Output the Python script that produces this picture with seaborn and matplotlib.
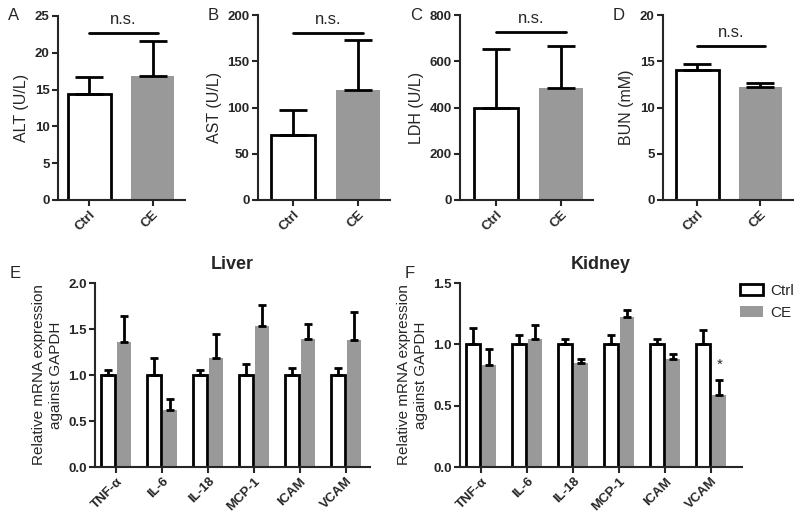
import numpy as np
import pandas as pd
import seaborn as sns
import matplotlib.pyplot as plt
from matplotlib.patches import Patch

# serum markers (top row)
groups = ['Ctrl', 'CE']
alt_mean = [14.4, 16.8]
alt_err = [2.3, 4.8]
ast_mean = [70, 119]
ast_err = [27, 54]
ldh_mean = [397, 483]
ldh_err = [258, 185]
bun_mean = [14.1, 12.2]
bun_err = [0.6, 0.5]

# mRNA expression (bottom row)
genes = ['TNF-α', 'IL-6', 'IL-18', 'MCP-1', 'ICAM', 'VCAM']
liver_ctrl = [1.0, 1.0, 1.0, 1.0, 1.0, 1.0]
liver_ctrl_err = [0.05, 0.18, 0.05, 0.12, 0.08, 0.08]
liver_ce = [1.36, 0.62, 1.18, 1.53, 1.39, 1.38]
liver_ce_err = [0.28, 0.12, 0.27, 0.23, 0.16, 0.30]
kidney_ctrl = [1.0, 1.0, 1.0, 1.0, 1.0, 1.0]
kidney_ctrl_err = [0.13, 0.08, 0.04, 0.08, 0.04, 0.12]
kidney_ce = [0.83, 1.04, 0.85, 1.22, 0.88, 0.59]
kidney_ce_err = [0.13, 0.12, 0.03, 0.06, 0.04, 0.12]

GRAY = '#999999'
sns.set_style('ticks')
plt.rcParams['font.family'] = ['Liberation Sans', 'DejaVu Sans']
plt.rcParams['axes.linewidth'] = 1.5

W, H = 800, 518
fig = plt.figure(figsize=(8, 5.18), dpi=100)


def add_ax(left, right, top, bottom):
    return fig.add_axes([left / W, 1 - bottom / H, (right - left) / W, (bottom - top) / H])


def style_ax(ax, ylabel, yticks, ylim, xlim, fmt=None, ysize=11.5):
    sns.despine(ax=ax)
    ax.set_ylim(*ylim)
    ax.set_xlim(*xlim)
    ax.set_yticks(yticks)
    if fmt:
        ax.set_yticklabels([fmt.format(t) for t in yticks])
    ax.set_ylabel(ylabel, fontsize=ysize, labelpad=4)
    ax.set_xlabel('')
    ax.tick_params(axis='both', width=1.5, length=4, labelsize=9.5, pad=2)
    for lab in ax.get_yticklabels():
        lab.set_fontweight('bold')
    for lab in ax.get_xticklabels():
        lab.set_fontweight('bold')
        lab.set_rotation(45)
        lab.set_ha('right')
        lab.set_rotation_mode('anchor')


def top_panel(box, letter, mean, err, ylabel, yticks, xlim, sig_y):
    ax = add_ax(*box)
    sns.barplot(x=groups, y=mean, hue=groups, palette=['white', GRAY], width=0.68,
                legend=False, ax=ax)
    bars = ax.patches[:2]
    bars[0].set_edgecolor('black')
    bars[0].set_linewidth(2)
    bars[1].set_edgecolor('none')
    xs = [b.get_x() + b.get_width() / 2 for b in bars]
    ax.errorbar(xs, mean, yerr=[[0, 0], err], fmt='none', ecolor='black',
                elinewidth=2, capsize=10, capthick=2, zorder=1)
    ax.plot([xs[0], xs[1] + 0.08], [sig_y, sig_y], color='black', lw=2, clip_on=False)
    ax.text(np.mean(xs) + 0.04, sig_y + (yticks[-1]) * 0.03, 'n.s.', ha='center',
            va='bottom', fontsize=12)
    style_ax(ax, ylabel, yticks, (0, yticks[-1]), xlim)
    fig.text((box[0] - 50) / W, 1 - 15 / H, letter, fontsize=12, va='center')
    return ax


top_panel((58, 185, 16, 200), 'A', alt_mean, alt_err, 'ALT (U/L)',
          [0, 5, 10, 15, 20, 25], (-0.49, 1.51), 22.7)
top_panel((258, 390, 15, 200), 'B', ast_mean, ast_err, 'AST (U/L)',
          [0, 50, 100, 150, 200], (-0.54, 1.50), 181)
top_panel((460, 593, 15, 200), 'C', ldh_mean, ldh_err, 'LDH (U/L)',
          [0, 200, 400, 600, 800], (-0.55, 1.49), 728)
top_panel((663, 793, 15, 200), 'D', bun_mean, bun_err, 'BUN (mM)',
          [0, 5, 10, 15, 20], (-0.54, 1.52), 16.7)


def bottom_panel(box, letter, title, ctrl, ctrl_err, ce, ce_err, yticks, xlim):
    ax = add_ax(*box)
    df = pd.DataFrame({'gene': genes * 2,
                       'group': ['Ctrl'] * len(genes) + ['CE'] * len(genes),
                       'value': ctrl + ce})
    sns.barplot(data=df, x='gene', y='value', hue='group', palette=['white', GRAY],
                width=0.72, gap=0.15, legend=False, ax=ax)
    bars = ax.patches[:2 * len(genes)]
    for b in bars[:len(genes)]:
        b.set_edgecolor('black')
        b.set_linewidth(2)
    for b in bars[len(genes):]:
        b.set_edgecolor('none')
    xs = [b.get_x() + b.get_width() / 2 for b in bars]
    vals = ctrl + ce
    errs = ctrl_err + ce_err
    ax.errorbar(xs, vals, yerr=[[0] * len(vals), errs], fmt='none', ecolor='black',
                elinewidth=2, capsize=3, capthick=2, zorder=1)
    style_ax(ax, 'Relative mRNA expression\nagainst GAPDH', yticks,
             (0, yticks[-1]), xlim, fmt='{:.1f}', ysize=11)
    ax.set_title(title, fontsize=13, fontweight='bold', pad=10)
    fig.text((box[0] - 85 if letter == 'E' else box[0] - 55) / W, 1 - 273 / H, letter,
             fontsize=12, va='center')
    return ax, xs


bottom_panel((95, 370, 283, 467), 'E', 'Liver', liver_ctrl, liver_ctrl_err,
             liver_ce, liver_ce_err, [0, 0.5, 1.0, 1.5, 2.0], (-0.46, 5.52))
axF, xsF = bottom_panel((460, 742, 283, 467), 'F', 'Kidney', kidney_ctrl, kidney_ctrl_err,
                        kidney_ce, kidney_ce_err, [0, 0.5, 1.0, 1.5], (-0.46, 5.67))
axF.text(xsF[-1], kidney_ce[-1] + kidney_ce_err[-1] + 0.12, '*', ha='center',
         va='center', fontsize=11)

handles = [Patch(facecolor='white', edgecolor='black', linewidth=2, label='Ctrl'),
           Patch(facecolor=GRAY, edgecolor='none', label='CE')]
fig.legend(handles=handles, loc='upper left', bbox_to_anchor=(740 / W, 1 - 284 / H),
           frameon=False, fontsize=11, handlelength=1.5, handleheight=0.7,
           handletextpad=0.5, labelspacing=0.5, borderpad=0, borderaxespad=0)

plt.savefig('out.png', dpi=100)
